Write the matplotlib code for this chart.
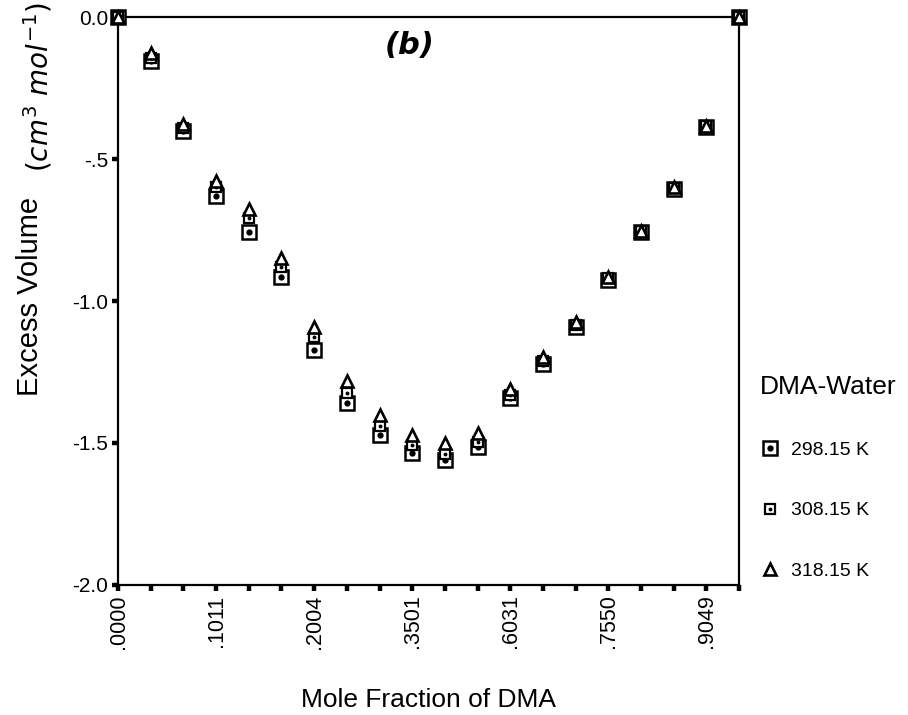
import matplotlib
matplotlib.use("Agg")
import matplotlib.pyplot as plt
from matplotlib.legend_handler import HandlerTuple
from matplotlib.lines import Line2D

plt.rcParams['font.family'] = ['Liberation Sans', 'DejaVu Sans']

# mole fraction categories (only every third tick carries a label)
x_labels = [".0000", "", "", ".1011", "", "", ".2004", "", "", ".3501",
            "", "", ".6031", "", "", ".7550", "", "", ".9049", ""]

# excess volume, cm3 mol-1
v_298 = [0.0, -0.155, -0.400, -0.630, -0.756, -0.915, -1.173, -1.360, -1.473, -1.537,
         -1.560, -1.515, -1.340, -1.222, -1.092, -0.925, -0.758, -0.606, -0.387, 0.0]
v_308 = [0.0, -0.145, -0.390, -0.600, -0.707, -0.880, -1.127, -1.325, -1.442, -1.509,
         -1.540, -1.495, -1.330, -1.212, -1.085, -0.920, -0.755, -0.603, -0.385, 0.0]
v_318 = [0.0, -0.128, -0.375, -0.576, -0.675, -0.848, -1.092, -1.283, -1.403, -1.473,
         -1.500, -1.466, -1.310, -1.198, -1.074, -0.915, -0.752, -0.600, -0.383, 0.0]

y_ticks = [0.0, -0.5, -1.0, -1.5, -2.0]
y_tick_labels = ["0.0", "-.5", "-1.0", "-1.5", "-2.0"]

x = list(range(len(x_labels)))

fig = plt.figure(figsize=(9.08, 7.15), dpi=100)
ax = fig.add_axes([0.130, 0.182, 0.684, 0.794])

# 298.15 K : rounded square with a dot inside
ax.plot(x, v_298, ls="none", marker="s", ms=10, mfc="white", mec="black", mew=1.8, clip_on=False, zorder=3)
ax.plot(x, v_298, ls="none", marker="o", ms=3.5, color="black", clip_on=False, zorder=3)
# 308.15 K : small square with a dot
ax.plot(x, v_308, ls="none", marker="s", ms=6.5, mfc="white", mec="black", mew=1.6, clip_on=False, zorder=4)
ax.plot(x, v_308, ls="none", marker="o", ms=1.8, color="black", clip_on=False, zorder=4)
# 318.15 K : open triangle
ax.plot(x, v_318, ls="none", marker="^", ms=9, mfc="white", mec="black", mew=1.9, clip_on=False, zorder=5)

ax.set_xlim(0, len(x_labels) - 1)
ax.set_ylim(-2.0, 0.0)
ax.set_xticks(x)
ax.set_xticklabels(x_labels, rotation=90, fontsize=15.5)
ax.set_yticks(y_ticks)
ax.set_yticklabels(y_tick_labels, fontsize=15)
ax.tick_params(axis="both", direction="out", length=4, width=3.2, pad=3)

for s in ax.spines.values():
    s.set_linewidth(1.6)

ax.set_xlabel("Mole Fraction of DMA", fontsize=19, labelpad=28)

fig.text(0.033, 0.585, "Excess Volume", rotation=90, fontsize=21, ha="center", va="center")
fig.text(0.042, 0.878, r"$(cm^3\ mol^{-1})$", rotation=90, fontsize=20,
         ha="center", va="center", family="DejaVu Sans")

ax.text(0.47, 0.95, "(b)", transform=ax.transAxes, fontsize=22, fontweight="bold",
        fontstyle="italic", ha="center", va="center", family="DejaVu Sans")

h298 = (Line2D([], [], ls="none", marker="s", ms=10, mfc="white", mec="black", mew=1.8),
        Line2D([], [], ls="none", marker="o", ms=3.5, color="black"))
h308 = (Line2D([], [], ls="none", marker="s", ms=6.5, mfc="white", mec="black", mew=1.6),
        Line2D([], [], ls="none", marker="o", ms=1.8, color="black"))
h318 = Line2D([], [], ls="none", marker="^", ms=9, mfc="white", mec="black", mew=1.9)

leg = fig.legend([h298, h308, h318], ["298.15 K", "308.15 K", "318.15 K"],
                 handler_map={tuple: HandlerTuple(ndivide=1)},
                 loc="upper left", bbox_to_anchor=(0.822, 0.495), frameon=False,
                 title="DMA-Water", title_fontsize=19, fontsize=14,
                 labelspacing=2.2, handlelength=1.0, handletextpad=0.6, borderpad=0.2)
leg._legend_box.align = "left"

fig.savefig("out.png", dpi=100)
